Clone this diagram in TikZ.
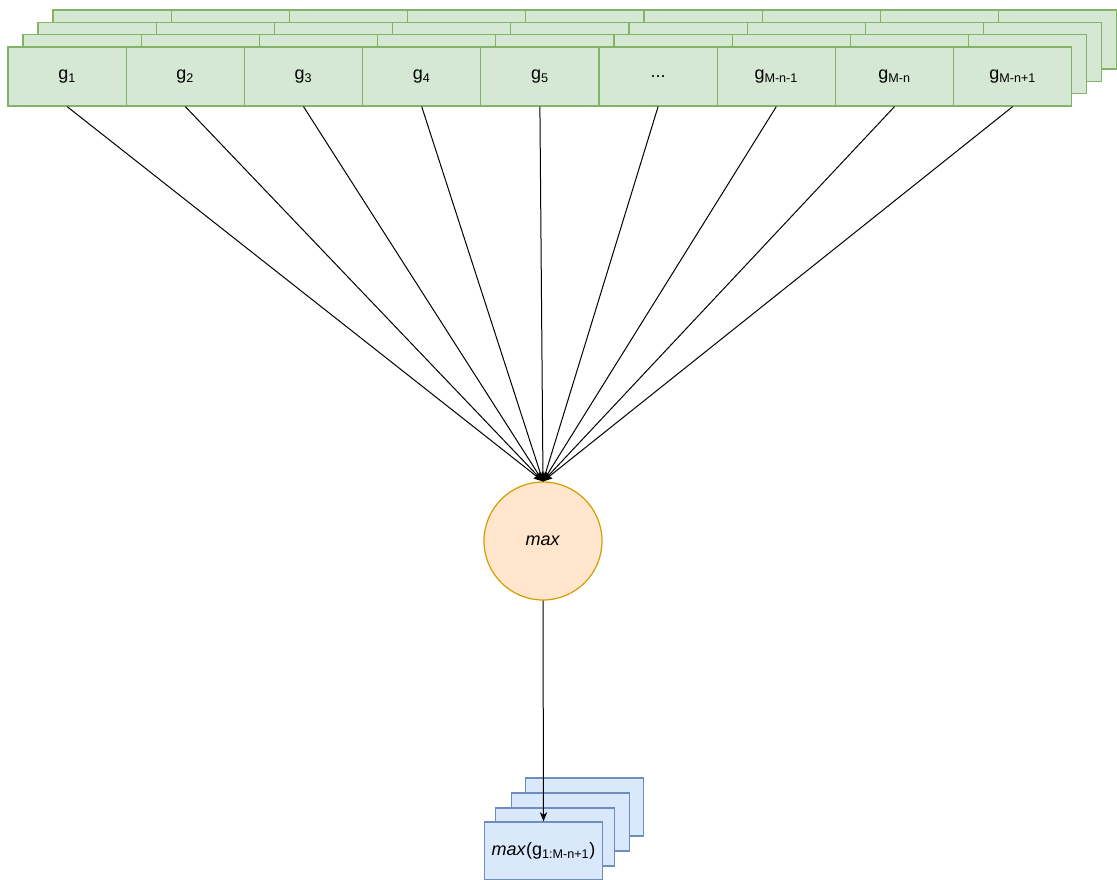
\documentclass[tikz,border=0pt]{standalone}
\usepackage{fontspec}
\setmainfont{Liberation Sans}
\usetikzlibrary{arrows.meta}
\definecolor{cellfill}{HTML}{D5E8D4}
\definecolor{celledge}{HTML}{82B366}
\definecolor{maxfill}{HTML}{FFE6CC}
\definecolor{maxedge}{HTML}{D79B00}
\definecolor{outfill}{HTML}{DAE8FC}
\definecolor{outedge}{HTML}{6C8EBF}

\begin{document}
\begin{tikzpicture}[x=0.75pt,y=-0.75pt,
	cell/.style={draw=celledge, fill=cellfill, line width=0.9pt, minimum width=88.65pt, minimum height=44.25pt, inner sep=0pt, font=\fontsize{13.5}{16}\selectfont},
	maxnode/.style={circle, draw=maxedge, fill=maxfill, line width=0.9pt, minimum size=88.5pt, inner sep=0pt, font=\fontsize{13.5}{16}\selectfont},
	outbox/.style={draw=outedge, fill=outfill, line width=0.9pt, minimum width=89pt, minimum height=43.5pt, inner sep=0pt, font=\fontsize{13.5}{16}\selectfont},
	conn/.style={line width=0.75pt, -{Stealth[length=7pt,width=5.5pt]}}]
	\useasboundingbox (0,0) rectangle (1117,880);
	
	% stacked copies of the input row
	\foreach \k in {3,2,1}
		\foreach \i in {1,...,9}
			\node[cell] (L\k c\i) at ({8+118.2*(\i-0.5)+15*\k},{76.5-12.3*\k}) {};
	
	% front row
	\foreach \i/\t in {1/{g\textsubscript{1}}, 2/{g\textsubscript{2}}, 3/{g\textsubscript{3}}, 4/{g\textsubscript{4}}, 5/{g\textsubscript{5}}, 6/{...}, 7/{g\textsubscript{M-n-1}}, 8/{g\textsubscript{M-n}}, 9/{g\textsubscript{M-n+1}}}
		\node[cell] (g\i) at ({8+118.2*(\i-0.5)},76.5) {\t};
	
	\node[maxnode] (mx) at (543,541) {\textit{max}};
	
	\foreach \i in {1,...,9}
		\draw[conn] (g\i.south) -- (mx.north);
	
	% output stack
	\node[outbox] (out3) at (584.5,807) {};
	\node[outbox] (out2) at (570.5,822) {};
	\node[outbox] (out1) at (555,837) {};
	\node[outbox] (out) at (543.5,851) {\textit{max}(g\textsubscript{1:M-n+1})};
	
	\draw[conn] (mx.south) -- (out.north);
\end{tikzpicture}
\end{document}
